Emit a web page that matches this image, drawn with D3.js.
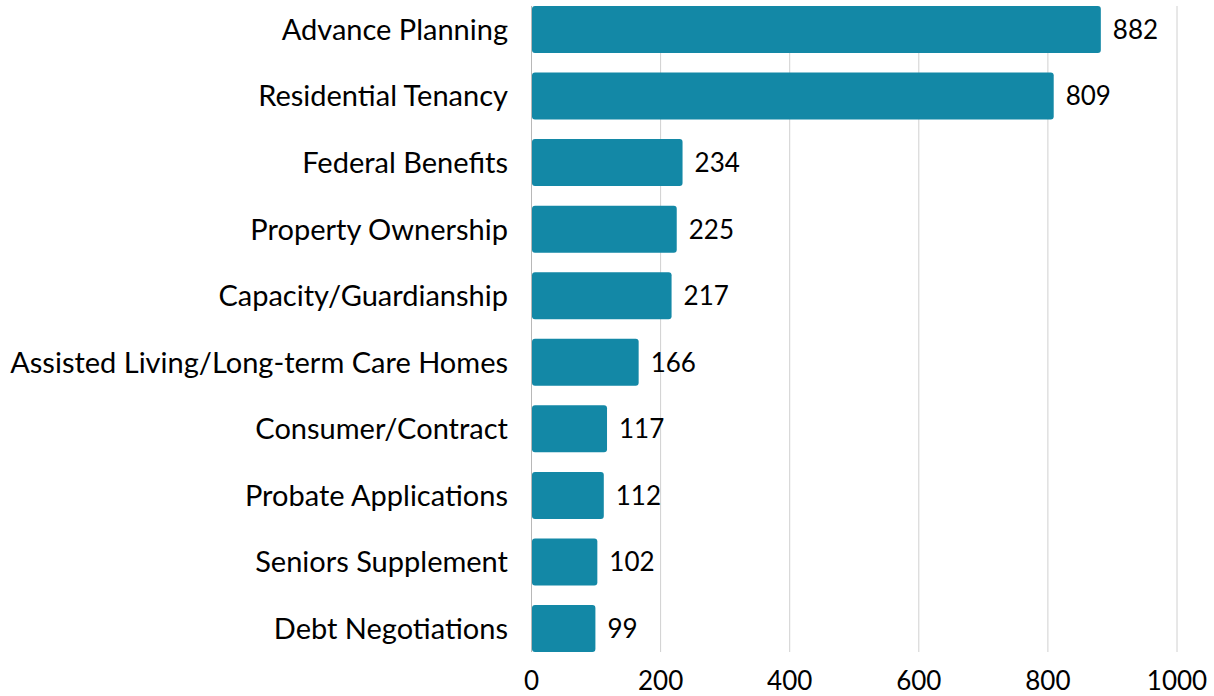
<!DOCTYPE html>
<html>
<head>
<meta charset="utf-8">
<script src="https://cdn.jsdelivr.net/npm/d3@7"></script>
<style>
  html, body { margin: 0; padding: 0; background: #fff; }
  text { font-family: Lato, "Open Sans", sans-serif; fill: #000; }
</style>
</head>
<body>
<div id="canvas"></div>
<script>
// data
const categories = [
  "Advance Planning",
  "Residential Tenancy",
  "Federal Benefits",
  "Property Ownership",
  "Capacity/Guardianship",
  "Assisted Living/Long-term Care Homes",
  "Consumer/Contract",
  "Probate Applications",
  "Seniors Supplement",
  "Debt Negotiations"
];
const counts = [882, 809, 234, 225, 217, 166, 117, 112, 102, 99];
const xTicks = [0, 200, 400, 600, 800, 1000];

const width = 1214;
const height = 696;
const marginLeft = 531.5;
const marginRight = 37;
const plotTop = -3.8;
const plotBottom = 661.8;

const data = categories.map((c, i) => ({ name: c, value: counts[i] }));

const x = d3.scaleLinear()
    .domain([0, 1000])
    .range([marginLeft, width - marginRight]);

const y = d3.scaleBand()
    .domain(categories)
    .range([plotTop, plotBottom])
    .paddingInner(0.294)
    .paddingOuter(0.147);

const svg = d3.select("#canvas")
    .append("svg")
    .attr("width", width)
    .attr("height", height)
    .attr("viewBox", [0, 0, width, height]);

const gridTop = y(categories[0]);
const gridBottom = y(categories[categories.length - 1]) + y.bandwidth();

// vertical gridlines
svg.append("g")
    .selectAll("line")
    .data(xTicks.slice(1))
    .join("line")
        .attr("x1", d => x(d))
        .attr("x2", d => x(d))
        .attr("y1", gridTop)
        .attr("y2", gridBottom)
        .attr("stroke", "#d0d0d0")
        .attr("stroke-width", 1);

// left axis line
svg.append("line")
    .attr("x1", x(0)).attr("x2", x(0))
    .attr("y1", gridTop).attr("y2", gridBottom)
    .attr("stroke", "#b8b8b8")
    .attr("stroke-width", 1);

// bars
svg.append("g")
    .selectAll("rect")
    .data(data)
    .join("rect")
        .attr("x", x(0) + 0.5)
        .attr("y", d => y(d.name))
        .attr("width", d => x(d.value) - x(0) - 0.5)
        .attr("height", y.bandwidth())
        .attr("rx", 3)
        .attr("fill", "#1388a6");

// value labels
svg.append("g")
    .selectAll("text")
    .data(data)
    .join("text")
        .attr("x", d => x(d.value) + 12)
        .attr("y", d => y(d.name) + y.bandwidth() / 2)
        .attr("dy", "0.36em")
        .attr("font-size", "26px")
        .text(d => d.value);

// category labels
const labels = svg.append("g")
    .selectAll("text")
    .data(data)
    .join("text")
        .attr("x", 508)
        .attr("y", d => y(d.name) + y.bandwidth() / 2)
        .attr("dy", "0.36em")
        .attr("text-anchor", "end")
        .attr("font-size", "26px")
        .text(d => d.name);

// fit the longest label to the reference width (~498px)
let longest = 0;
labels.each(function() { longest = Math.max(longest, this.getComputedTextLength()); });
if (longest > 0) labels.attr("font-size", (26 * 498 / longest) + "px");

// x tick labels
svg.append("g")
    .selectAll("text")
    .data(xTicks)
    .join("text")
        .attr("x", d => x(d))
        .attr("y", 690)
        .attr("text-anchor", "middle")
        .attr("font-size", "26px")
        .text(d => d);
</script>
</body>
</html>
